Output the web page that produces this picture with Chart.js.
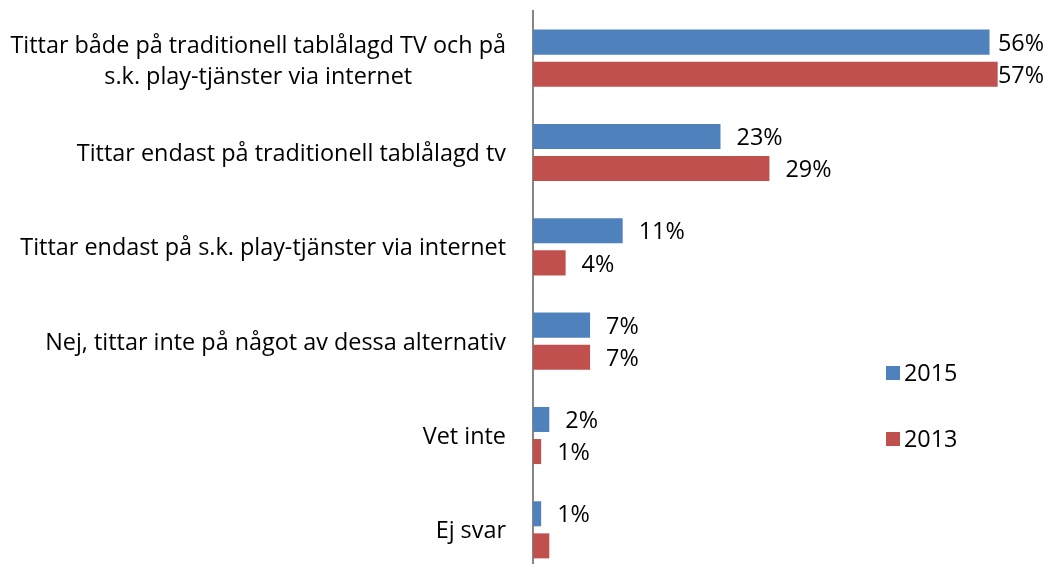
<!DOCTYPE html>
<html>
<head>
<meta charset="utf-8">
<script src="https://cdn.jsdelivr.net/npm/chart.js@4.4.1/dist/chart.umd.min.js"></script>
<style>
  html, body { margin: 0; padding: 0; background: #fff; overflow: hidden; width: 1047px; height: 564px; }
  #wrap { width: 1047px; height: 580px; }
</style>
</head>
<body>
<div id="wrap"><canvas id="ctx" width="1047" height="580"></canvas></div>
<script>
const categories = [
  ["Tittar både på traditionell tablålagd TV och på", "s.k. play-tjänster via internet"],
  "Tittar endast på traditionell tablålagd tv",
  "Tittar endast på s.k. play-tjänster via internet",
  "Nej, tittar inte på något av dessa alternativ",
  "Vet inte",
  "Ej svar",
];
const values2015 = [56, 23, 11, 7, 2, 1];
const values2013 = [57, 29, 4, 7, 1, 2];
// the 2013 "Ej svar" bar has no label in the original
const hidden2013 = [false, false, false, false, false, true];

const FONT = "23.4px 'Open Sans'";

// category labels: right aligned block, lines centered inside it
const catLabels = {
  id: "catLabels",
  afterDraw(chart) {
    const c = chart.ctx;
    const y = chart.scales.y;
    c.save();
    c.font = FONT;
    c.fillStyle = "#000";
    c.textBaseline = "middle";
    c.textAlign = "center";
    const right = chart.chartArea.left - 27;
    categories.forEach((lab, i) => {
      const lines = Array.isArray(lab) ? lab : [lab];
      const w = Math.max(...lines.map((l) => c.measureText(l).width));
      const cy = y.getPixelForValue(i) + (lines.length > 1 ? 4 : 2);
      const lh = 31;
      lines.forEach((l, j) => {
        c.fillText(l, right - w / 2, cy + (j - (lines.length - 1) / 2) * lh);
      });
    });
    c.restore();
  },
};

// value labels at bar ends
const valueLabels = {
  id: "valueLabels",
  afterDatasetsDraw(chart) {
    const c = chart.ctx;
    c.save();
    c.font = FONT;
    c.fillStyle = "#000";
    c.textBaseline = "middle";
    c.textAlign = "left";
    chart.data.datasets.forEach((ds, di) => {
      chart.getDatasetMeta(di).data.forEach((bar, i) => {
        if (ds.hideLabel && ds.hideLabel[i]) return;
        const t = ds.data[i] + "%";
        const w = c.measureText(t).width;
        const x = Math.min(bar.x + 16, 1044 - w);
        c.fillText(t, x, bar.y + 2);
      });
    });
    c.restore();
  },
};

const sideLegend = {
  id: "sideLegend",
  afterDraw(chart) {
    const c = chart.ctx;
    c.save();
    c.font = FONT;
    c.textBaseline = "middle";
    c.textAlign = "left";
    const items = [[chart.data.datasets[0], 373], [chart.data.datasets[1], 439]];
    items.forEach(([ds, cy]) => {
      c.fillStyle = ds.backgroundColor;
      c.fillRect(886, cy - 7, 14, 14);
      c.fillStyle = "#000";
      c.fillText(ds.label, 904, cy + 1);
    });
    c.restore();
  },
};

new Chart(document.getElementById("ctx"), {
  type: "bar",
  data: {
    labels: categories,
    datasets: [
      { label: "2015", data: values2015, backgroundColor: "#4F81BD" },
      { label: "2013", data: values2013, backgroundColor: "#C0504D", hideLabel: hidden2013 },
    ],
  },
  options: {
    indexAxis: "y",
    responsive: false,
    animation: false,
    categoryPercentage: 0.68,
    barPercentage: 0.78,
    layout: { padding: { top: 11, bottom: 3, left: 0, right: 11 } },
    scales: {
      x: { display: false, min: 0, max: 61.7 },
      y: {
        grid: { display: false },
        border: { display: true, color: "#868686", width: 2 },
        ticks: { display: false },
        afterFit: (scale) => { scale.width = 533; },
      },
    },
    plugins: { legend: { display: false }, tooltip: { enabled: false } },
  },
  plugins: [catLabels, valueLabels, sideLegend],
});
</script>
</body>
</html>
